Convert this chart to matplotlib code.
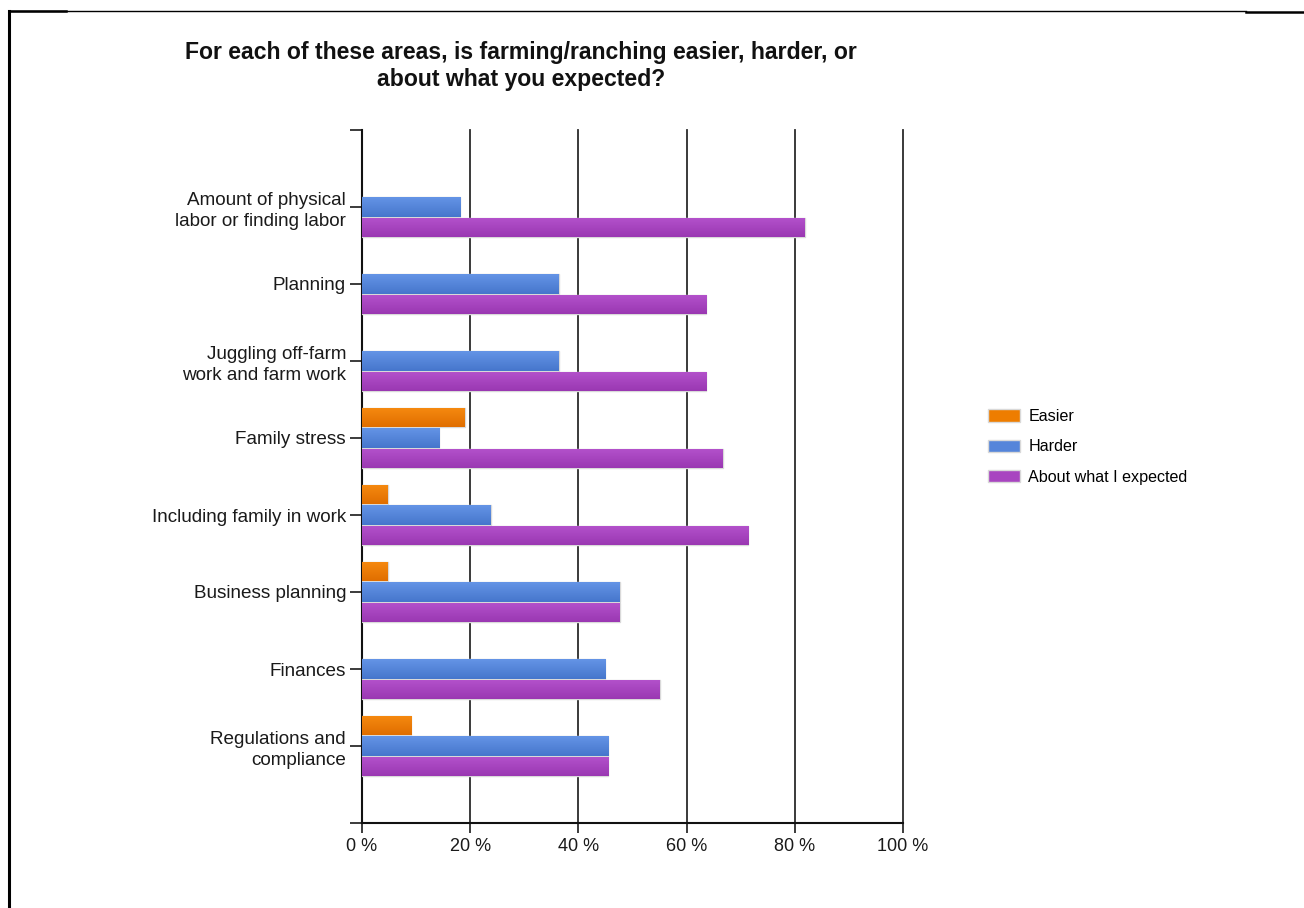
import matplotlib
matplotlib.use("Agg")
import matplotlib.pyplot as plt
import numpy as np
from matplotlib.patches import Patch
from matplotlib.lines import Line2D
from matplotlib.colors import LinearSegmentedColormap

plt.rcParams['font.family'] = ['Liberation Sans', 'DejaVu Sans']

categories = [
    "Amount of physical\nlabor or finding labor",
    "Planning",
    "Juggling off-farm\nwork and farm work",
    "Family stress",
    "Including family in work",
    "Business planning",
    "Finances",
    "Regulations and\ncompliance",
]
series_names = ["Easier", "Harder", "About what I expected"]
easier = [0.0, 0.0, 0.0, 19.0, 4.8, 4.8, 0.0, 9.1]
harder = [18.2, 36.4, 36.4, 14.3, 23.8, 47.6, 45.0, 45.5]
about = [81.8, 63.6, 63.6, 66.7, 71.4, 47.6, 55.0, 45.5]
x_ticks = [0, 20, 40, 60, 80, 100]
x_ticklabels = ["0 %", "20 %", "40 %", "60 %", "80 %", "100 %"]

title = "For each of these areas, is farming/ranching easier, harder, or\nabout what you expected?"

# colours: (top, bottom) of gradient
grad_colors = [("#F68A10", "#E06E00"), ("#6494E6", "#4676CC"), ("#B452CC", "#9A38B2")]
solid_colors = ["#EE7D00", "#5585DA", "#A845C0"]

W, H = 1304, 908
fig = plt.figure(figsize=(W / 100, H / 100), dpi=100)
ax = fig.add_axes([362 / W, 1 - 823 / H, (903 - 362) / W, (823 - 130) / H])

n = len(categories)
ypos = np.arange(1, n + 1)
bar_h = 0.25
offsets = [-0.265, 0.0, 0.265]
all_series = [easier, harder, about]

for s, (vals, off) in enumerate(zip(all_series, offsets)):
    cmap = LinearSegmentedColormap.from_list("g%d" % s, [grad_colors[s][0], grad_colors[s][1]])
    bars = ax.barh(ypos + off, vals, height=bar_h, color=solid_colors[s],
                   edgecolor="#D9D9D9", linewidth=1.0, zorder=3, label=series_names[s])
    for b, v in zip(bars, vals):
        if v <= 0:
            b.set_visible(False)
            continue
        x0, y0 = b.get_x(), b.get_y()
        w, h = b.get_width(), b.get_height()
        grad = np.linspace(0, 1, 50).reshape(-1, 1)
        im = ax.imshow(grad, cmap=cmap, aspect="auto",
                       extent=(x0, x0 + w, y0 + h, y0), origin="upper",
                       zorder=3.5, interpolation="bilinear")
        im.set_clip_path(b)

ax.set_xlim(0, 100)
ax.set_ylim(9, 0)

# vertical grid lines
for xv in x_ticks[1:]:
    ax.axvline(xv, color="#2b2b2b", linewidth=1.3, zorder=1, clip_on=False)

ax.set_xticks(x_ticks)
ax.set_xticklabels(x_ticklabels, fontsize=13, color="#1a1a1a")
ax.set_yticks([0] + list(ypos) + [9])
ax.set_yticklabels([""] + categories + [""], fontsize=13.6, color="#1a1a1a", linespacing=1.3)
ax.tick_params(axis="x", direction="out", length=7.5, width=1.2, color="#1a1a1a", pad=3)
ax.tick_params(axis="y", direction="out", length=8.5, width=1.2, color="#1a1a1a", pad=3)

for side in ["top", "right"]:
    ax.spines[side].set_visible(False)
for side in ["left", "bottom"]:
    ax.spines[side].set_color("#111111")
    ax.spines[side].set_linewidth(1.5)

# title
fig.text(521 / W, 1 - 66 / H, title, ha="center", va="center", fontsize=16.6,
         fontweight="bold", color="#111111", linespacing=1.2)

# legend
handles = [Patch(facecolor=solid_colors[i], edgecolor="#D9D9D9", linewidth=1.0) for i in range(3)]
fig.legend(handles, series_names, loc="upper left",
           bbox_to_anchor=(988 / W, 1 - 409 / H), frameon=False, fontsize=11.6,
           handlelength=2.0, handleheight=0.8, handletextpad=0.5, labelspacing=0.95,
           borderpad=0, borderaxespad=0)

# page border lines
fig.add_artist(Line2D([9 / W, 9 / W], [0, 1 - 11 / H], color="black", linewidth=2.2))
fig.add_artist(Line2D([9 / W, 1246 / W], [1 - 11 / H, 1 - 11 / H], color="black", linewidth=1.0))
fig.add_artist(Line2D([9 / W, 66 / W], [1 - 11 / H, 1 - 11 / H], color="black", linewidth=1.8))
fig.add_artist(Line2D([1246 / W, 1 ], [1 - 12 / H, 1 - 12 / H], color="black", linewidth=1.8))

fig.savefig("out.png", dpi=100)
